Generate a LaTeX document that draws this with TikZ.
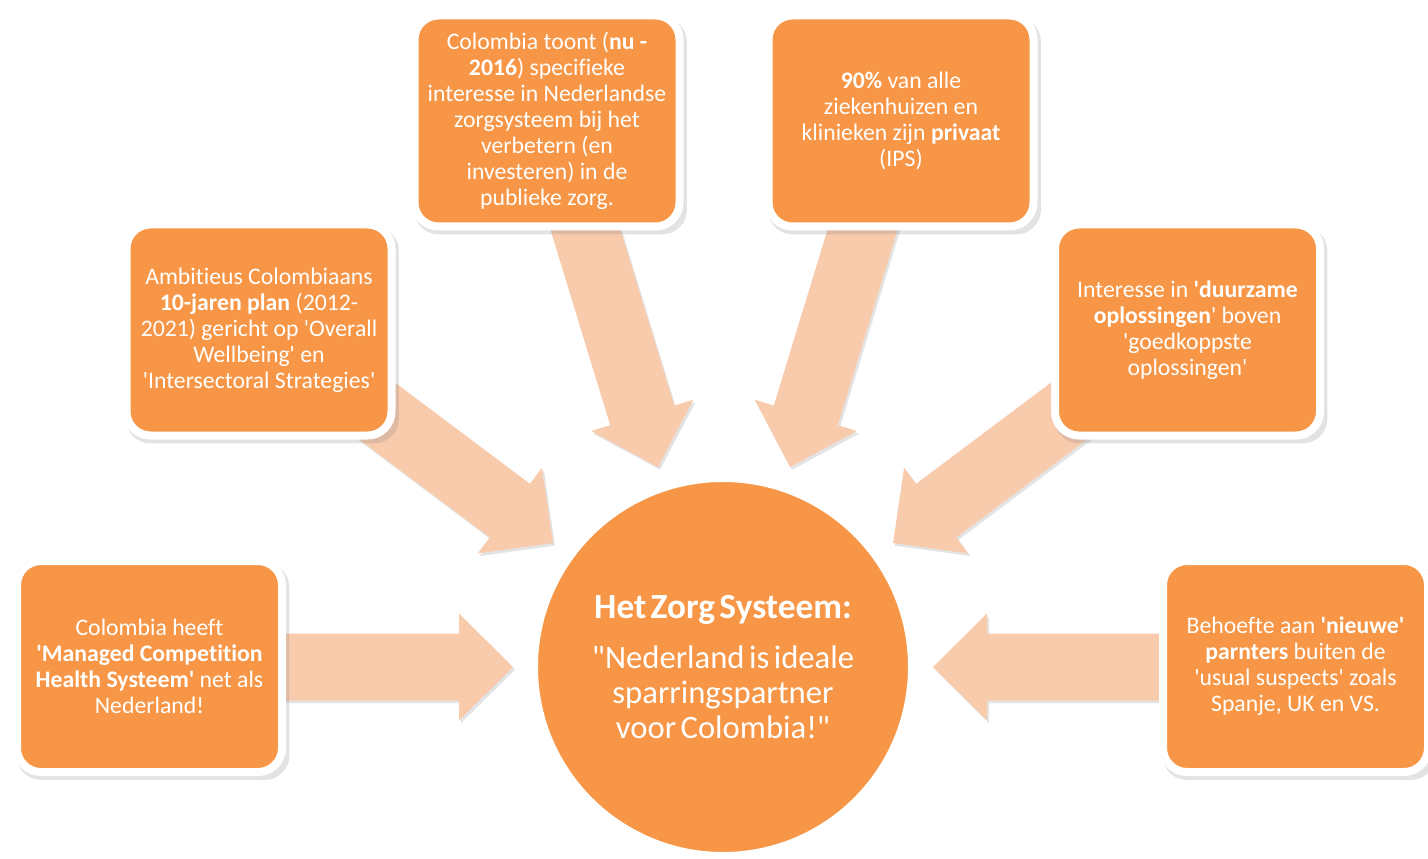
\documentclass[tikz,border=0pt]{standalone}
\usepackage{fontspec}
\setmainfont{Carlito}[Ligatures={TeXOff,NoCommon}]
\usetikzlibrary{shadows}
\definecolor{boxorange}{RGB}{247,150,70}
\definecolor{arrowpeach}{RGB}{249,203,173}
\tikzset{
  infobox/.style={rectangle, rounded corners=18pt, fill=boxorange, draw=white,
    line width=6pt, minimum width=198.75pt, minimum height=158.25pt, inner sep=0pt,
    text=white, align=center, font=\fontsize{17.8}{19.5}\selectfont,
    drop shadow={shadow xshift=2.5pt, shadow yshift=-3.5pt, shadow scale=1.03, opacity=0.22}},
  hubnode/.style={circle, fill=boxorange, draw=white, line width=5.25pt,
    minimum size=282.75pt, inner sep=0pt, text=white, text width=230pt, align=center,
    drop shadow={shadow xshift=0pt, shadow yshift=0pt, shadow scale=1.012, opacity=0.15}},
  arrowfill/.style={fill=arrowpeach,
    drop shadow={shadow xshift=1.5pt, shadow yshift=-2pt, opacity=0.22}}
}
\newcommand\blkarrow[3]{%
  \coordinate (#1) at #2;
  \fill[arrowfill, shift={(#1)}, rotate=#3]
    (0,0) -- (-54,53.5) -- (-54,33.5) -- (-363,33.5) -- (-363,-33.5)
    -- (-54,-33.5) -- (-54,-53.5) -- cycle;
}
\begin{document}
\begin{tikzpicture}[x=0.75pt, y=-0.75pt]
\useasboundingbox (0,0) rectangle (1428,859);

% arrows (tips point at the hub)
\blkarrow{tipL}{(513,667)}{0}
\blkarrow{tipR}{(933,667)}{180}
\blkarrow{tipDL}{(553,543)}{-36.87}
\blkarrow{tipDR}{(893,543)}{-143.13}
\blkarrow{tipTL}{(658,467)}{-73}
\blkarrow{tipTR}{(790,467)}{-107}

% boxes
\node[infobox] (b1) at (149.5,666.5) {Colombia heeft\\ \textbf{'Managed Competition}\\ \textbf{Health Systeem'} net als\\ Nederland!};
\node[infobox] (b2) at (259,330) {Ambitieus Colombiaans\\ \textbf{10-jaren plan} (2012-\\ 2021) gericht op 'Overall\\ Wellbeing' en\\ 'Intersectoral Strategies'};
\node[infobox] (b3) at (547,121) {Colombia toont (\textbf{nu -}\\ \textbf{2016}) specifieke\\ interesse in Nederlandse\\ zorgsysteem bij het\\ verbetern (en\\ investeren) in de\\ publieke zorg.};
\node[infobox] (b4) at (901,121) {\textbf{90\%} van alle\\ ziekenhuizen en\\ klinieken zijn \textbf{privaat}\\ (IPS)};
\node[infobox] (b5) at (1187.5,330) {Interesse in \textbf{'duurzame}\\ \textbf{oplossingen}' boven\\ 'goedkoppste\\ oplossingen'};
\node[infobox] (b6) at (1295.5,666.5) {Behoefte aan \textbf{'nieuwe'}\\ \textbf{parnters} buiten de\\ 'usual suspects' zoals\\ Spanje, UK en VS.};

% hub
\node[hubnode] (hub) at (723,667) {{\fontsize{26.5}{30}\selectfont\bfseries Het Zorg Systeem:\par}\vspace{11pt}{\fontsize{24.5}{26.5}\selectfont "Nederland is ideale\\ sparringspartner\\ voor Colombia!"\par}};
\end{tikzpicture}
\end{document}
